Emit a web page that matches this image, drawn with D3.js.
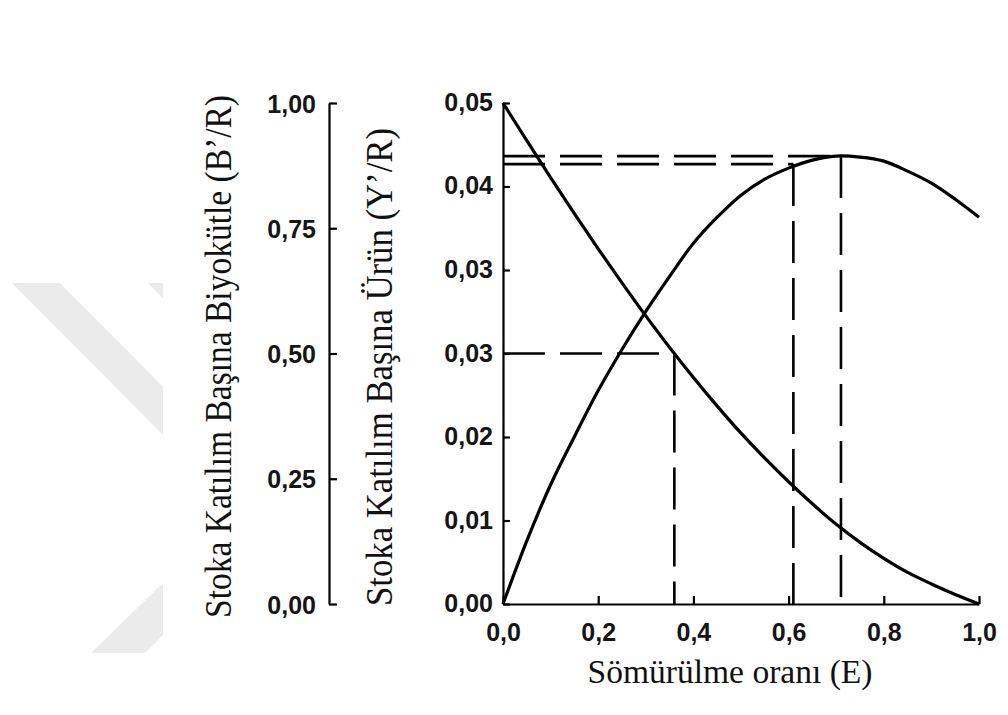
<!DOCTYPE html>
<html>
<head>
<meta charset="utf-8">
<script src="https://cdn.jsdelivr.net/npm/d3@7"></script>
<style>
  html, body { margin: 0; padding: 0; background: #ffffff; }
  svg { display: block; }
</style>
</head>
<body>
<svg id="chart" width="1008" height="715"></svg>
<script>
// ---------------- DATA ----------------
const exploitationRate = [0, 0.05, 0.1, 0.15, 0.2, 0.25, 0.3, 0.35, 0.4, 0.45, 0.5,
                          0.55, 0.6, 0.65, 0.7, 0.75, 0.8, 0.85, 0.9, 0.95, 1.0];
const biomassPerRecruit = [1.0, 0.925, 0.851, 0.779, 0.709, 0.641, 0.575, 0.512, 0.452, 0.395, 0.341,
                           0.291, 0.244, 0.200, 0.159, 0.123, 0.091, 0.063, 0.040, 0.019, 0.0];
const yieldPerRecruit = [0, 0.0063, 0.0119, 0.0167, 0.0213, 0.0254, 0.0292, 0.0327, 0.0360, 0.0386, 0.0408,
                         0.0424, 0.0435, 0.0443, 0.0447, 0.0446, 0.0442, 0.0432, 0.0420, 0.0404, 0.0386];

const xTickValues = [0, 0.2, 0.4, 0.6, 0.8, 1.0];
const xTickLabels = ["0,0", "0,2", "0,4", "0,6", "0,8", "1,0"];
const bTickValues = [0, 0.25, 0.5, 0.75, 1.0];
const bTickLabels = ["0,00", "0,25", "0,50", "0,75", "1,00"];
const yTickValues = [0, 0.008333, 0.016667, 0.025, 0.033333, 0.041667, 0.05];
const yTickLabels = ["0,00", "0,01", "0,02", "0,03", "0,03", "0,04", "0,05"];

// reference (dashed) lines
const refBiomassE = 0.36, refBiomass = 0.5;
const refYieldE = [0.61, 0.71];
const refYield = [0.0439, 0.0447];

const xTitle = "Sömürülme oranı (E)";
const bTitle = "Stoka Katılım Başına Biyokütle (B’/R)";
const yTitle = "Stoka Katılım Başına Ürün (Y’/R)";

// ---------------- LAYOUT ----------------
const svg = d3.select("#chart");
const plotLeft = 503, plotRight = 979, plotTop = 103, plotBottom = 604;
const bAxisX = 329;

const x = d3.scaleLinear().domain([0, 1]).range([plotLeft, plotRight]);
const yB = d3.scaleLinear().domain([0, 1]).range([plotBottom, plotTop]);
const yY = d3.scaleLinear().domain([0, 0.05]).range([plotBottom, plotTop]);

// watermark (light grey chevron on the left)
const wm = svg.append("g").attr("fill", "#ebebeb");
wm.append("polygon").attr("points", "12,283 60,283 163,387 163,435");
wm.append("polygon").attr("points", "148,283 163,283 163,298");
wm.append("polygon").attr("points", "163,583 163,635 145,653 91,653");

const tickFont = "'Liberation Sans', Arial, sans-serif";
const titleFont = "'Liberation Serif', 'Times New Roman', serif";

function styleTicks(sel) {
  sel.style("font-family", tickFont).style("font-weight", "bold")
     .style("font-size", "25px").attr("fill", "#151515");
}

// ---- left B'/R axis ----
const bAxis = d3.axisRight(yB).tickValues(bTickValues)
  .tickFormat((d, i) => bTickLabels[i]).tickSize(8).tickSizeOuter(0).tickPadding(0);
const gB = svg.append("g").attr("transform", `translate(${bAxisX},0)`).call(bAxis);
gB.select(".domain").attr("stroke", "#000").attr("stroke-width", 2.2);
gB.selectAll(".tick line").attr("stroke", "#000").attr("stroke-width", 2.2);
gB.selectAll(".tick text").attr("x", -13).attr("dy", "0.36em").attr("text-anchor", "end").call(styleTicks);

// ---- right Y'/R axis ----
const yAxis = d3.axisRight(yY).tickValues(yTickValues)
  .tickFormat((d, i) => yTickLabels[i]).tickSize(7).tickSizeOuter(0).tickPadding(0);
const gY = svg.append("g").attr("transform", `translate(${plotLeft},0)`).call(yAxis);
gY.select(".domain").attr("stroke", "#000").attr("stroke-width", 2.2);
gY.selectAll(".tick line").attr("stroke", "#000").attr("stroke-width", 2.2);
gY.selectAll(".tick text").attr("x", -10).attr("dy", "0.3em").attr("text-anchor", "end").call(styleTicks);

// ---- x axis ----
const xAxis = d3.axisTop(x).tickValues(xTickValues)
  .tickFormat((d, i) => xTickLabels[i]).tickSize(8).tickSizeOuter(0).tickPadding(0);
const gX = svg.append("g").attr("transform", `translate(0,${plotBottom})`).call(xAxis);
gX.select(".domain").attr("stroke", "#000").attr("stroke-width", 2.2);
gX.selectAll(".tick line").attr("stroke", "#000").attr("stroke-width", 2.2);
gX.selectAll(".tick text").attr("y", 37).attr("dy", 0).attr("text-anchor", "middle").call(styleTicks);

// ---- dashed reference lines ----
const refG = svg.append("g").attr("stroke", "#000").attr("stroke-width", 2.6)
  .attr("stroke-dasharray", "42,15").attr("fill", "none");
refG.append("line").attr("x1", x(0)).attr("x2", x(refBiomassE))
  .attr("y1", yB(refBiomass)).attr("y2", yB(refBiomass));
refG.append("line").attr("x1", x(refBiomassE)).attr("x2", x(refBiomassE))
  .attr("y1", yB(refBiomass)).attr("y2", yB(0));
refYieldE.forEach((e, i) => {
  refG.append("line").attr("x1", x(0)).attr("x2", x(e))
    .attr("y1", yY(refYield[i])).attr("y2", yY(refYield[i]));
  refG.append("line").attr("x1", x(e)).attr("x2", x(e))
    .attr("y1", yY(refYield[i])).attr("y2", yY(0));
});

// ---- curves ----
const bLine = d3.line().x((d, i) => x(exploitationRate[i])).y(d => yB(d)).curve(d3.curveCatmullRom);
const yLine = d3.line().x((d, i) => x(exploitationRate[i])).y(d => yY(d)).curve(d3.curveCatmullRom);
svg.append("path").datum(biomassPerRecruit).attr("d", bLine)
  .attr("fill", "none").attr("stroke", "#000").attr("stroke-width", 3.2);
svg.append("path").datum(yieldPerRecruit).attr("d", yLine)
  .attr("fill", "none").attr("stroke", "#000").attr("stroke-width", 3.2);

// ---- titles ----
svg.append("text").text(xTitle)
  .attr("x", 730).attr("y", 683).attr("text-anchor", "middle")
  .attr("textLength", 285).attr("lengthAdjust", "spacingAndGlyphs")
  .style("font-family", titleFont).style("font-size", "34px").attr("fill", "#111");

svg.append("text").text(bTitle)
  .attr("transform", "translate(231,618) rotate(-90)")
  .attr("text-anchor", "start")
  .attr("textLength", 523).attr("lengthAdjust", "spacingAndGlyphs")
  .style("font-family", titleFont).style("font-size", "37px").attr("fill", "#111");

svg.append("text").text(yTitle)
  .attr("transform", "translate(392,606) rotate(-90)")
  .attr("text-anchor", "start")
  .attr("textLength", 478).attr("lengthAdjust", "spacingAndGlyphs")
  .style("font-family", titleFont).style("font-size", "37px").attr("fill", "#111");
</script>
</body>
</html>
